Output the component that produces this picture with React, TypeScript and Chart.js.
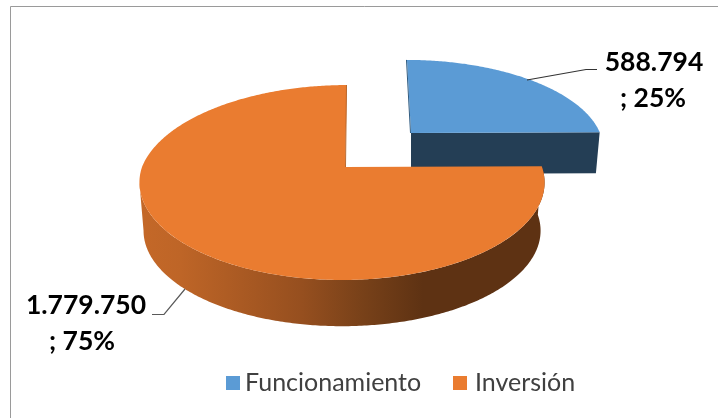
import React, { useEffect, useRef } from "react";
import { Chart, registerables } from "chart.js";

Chart.register(...registerables);

const categories = ["Funcionamiento", "Inversión"];
const amounts = [588794, 1779750];
const topColors = ["#5B9BD5", "#EA7C30"];

// Screen geometry of each exploded wedge: hub position, rim offset, radii, tilt and wall height.
const wedgeShapes = [
  { hubX: 411, hubY: 133, shift: 0, rx: 189, ry: 84.7, skew: 0.055, depth: 41 },
  { hubX: 345, hubY: 167, shift: -3, rx: 200, ry: 95, skew: -0.061, depth: 48.5 },
];
const FORESHORTEN = 0.159;
const WALL_SCALE = 0.98;

const rimPoint = (s: any, a: number, lower: boolean) => {
  const sin = Math.sin(a);
  const w = 1 - FORESHORTEN * sin;
  const dy = (s.ry * sin) / w;
  const dx = s.shift + (s.rx * Math.cos(a)) / w + s.skew * Math.min(dy, 0);
  const k = lower ? WALL_SCALE : 1;
  return { x: s.hubX + k * dx, y: s.hubY + k * dy + (lower ? s.depth : 0) };
};

// Extends the current path through the given rim points.
const tracePoints = (ctx: CanvasRenderingContext2D, pts: { x: number; y: number }[]) => {
  pts.forEach((p) => ctx.lineTo(p.x, p.y));
};

const sweep = (s: any, from: number, to: number, lower: boolean) => {
  const n = Math.max(2, Math.ceil(Math.abs(to - from) * 90));
  const pts = [];
  for (let i = 0; i <= n; i++) pts.push(rimPoint(s, from + ((to - from) * i) / n, lower));
  return pts;
};

const formatAmount = (v: number) => String(v).replace(/\B(?=(\d{3})+$)/g, ".");

const piePerspective = {
  id: "piePerspective",
  beforeDatasetsDraw(chart: any) {
    const { ctx } = chart;
    const arcs = chart.getDatasetMeta(0).data;
    const [blue, orange] = [arcs[0], arcs[1]];

    // Blue wedge: flat cut face below its right-hand radius, then the top surface.
    const sb = wedgeShapes[0];
    const bEnd = blue.endAngle;
    const corner = rimPoint(sb, bEnd, false);
    const cornerLow = rimPoint(sb, bEnd, true);
    ctx.save();
    ctx.fillStyle = "#243E55";
    ctx.beginPath();
    ctx.moveTo(sb.hubX, sb.hubY);
    ctx.lineTo(corner.x, corner.y);
    ctx.lineTo(cornerLow.x, cornerLow.y);
    ctx.lineTo(sb.hubX, sb.hubY + sb.depth);
    ctx.closePath();
    ctx.fill();
    ctx.fillStyle = topColors[0];
    ctx.beginPath();
    ctx.moveTo(sb.hubX, sb.hubY);
    tracePoints(ctx, sweep(sb, blue.startAngle, bEnd, false));
    ctx.closePath();
    ctx.fill();
    const bTop = rimPoint(sb, blue.startAngle, false);
    ctx.strokeStyle = "#2F5B80";
    ctx.lineWidth = 1;
    ctx.beginPath();
    ctx.moveTo(sb.hubX - 0.5, sb.hubY);
    ctx.lineTo(bTop.x - 0.5, bTop.y);
    ctx.stroke();

    // Orange wedge: curved outer wall with a left-to-right shade, then the top surface.
    // The wall stops where the rim is widest, which gives the left silhouette.
    const so = wedgeShapes[1];
    const wallFrom = orange.startAngle;
    const wallTo = Math.PI - Math.asin(FORESHORTEN);
    const shade = ctx.createLinearGradient(140, 0, 544, 0);
    shade.addColorStop(0, "#C46828");
    shade.addColorStop(0.1, "#BE6527");
    shade.addColorStop(0.4, "#964F1F");
    shade.addColorStop(0.55, "#784119");
    shade.addColorStop(0.7, "#5E3213");
    shade.addColorStop(1, "#5E3213");
    ctx.fillStyle = shade;
    ctx.beginPath();
    const topRim = sweep(so, wallFrom, wallTo, false);
    ctx.moveTo(topRim[0].x, topRim[0].y);
    tracePoints(ctx, topRim);
    tracePoints(ctx, sweep(so, wallTo, wallFrom, true));
    ctx.closePath();
    ctx.fill();

    ctx.fillStyle = topColors[1];
    ctx.beginPath();
    ctx.moveTo(so.hubX, so.hubY);
    tracePoints(ctx, sweep(so, orange.startAngle, orange.endAngle, false));
    ctx.closePath();
    ctx.fill();
    const oTop = rimPoint(so, orange.endAngle, false);
    ctx.strokeStyle = "#B9682D";
    ctx.lineWidth = 1;
    ctx.beginPath();
    ctx.moveTo(so.hubX + 0.5, so.hubY);
    ctx.lineTo(oTop.x - 0.5, oTop.y);
    ctx.stroke();
    ctx.restore();
    return false;
  },
  afterDraw(chart: any) {
    const { ctx } = chart;
    const values: number[] = chart.data.datasets[0].data;
    const total = values.reduce((a, b) => a + b, 0);

    ctx.save();
    // Chart frame: only the left and top edges fall inside the canvas.
    ctx.strokeStyle = "#9A9A9A";
    ctx.lineWidth = 1;
    ctx.beginPath();
    ctx.moveTo(10.5, 418);
    ctx.lineTo(10.5, 6.5);
    ctx.lineTo(718, 6.5);
    ctx.stroke();

    // Leader lines.
    ctx.lineWidth = 1.2;
    ctx.strokeStyle = "#333333";
    ctx.beginPath();
    ctx.moveTo(527, 80);
    ctx.lineTo(586, 69.5);
    ctx.lineTo(597, 69.5);
    ctx.stroke();
    ctx.strokeStyle = "#595959";
    ctx.beginPath();
    ctx.moveTo(185, 289);
    ctx.lineTo(164, 314.5);
    ctx.lineTo(152, 314.5);
    ctx.stroke();

    // Value and share labels.
    ctx.fillStyle = "#000000";
    ctx.font = "bold 26.5px Lato";
    ctx.textAlign = "center";
    ctx.textBaseline = "middle";
    const labelAt = [
      { x: 654, y: 62 },
      { x: 86, y: 305 },
    ];
    values.forEach((v, i) => {
      const share = Math.round((v / total) * 100);
      ctx.fillText(formatAmount(v), labelAt[i].x, labelAt[i].y);
      ctx.fillText(`; ${share}%`, labelAt[i].x - (i ? 4 : 1), labelAt[i].y + 36);
    });

    // Legend row.
    ctx.textAlign = "left";
    ctx.font = "25px Lato";
    const legendBoxAt = [226, 453];
    const legendTextAt = [245, 475];
    chart.data.labels.forEach((name: string, i: number) => {
      ctx.fillStyle = topColors[i];
      ctx.fillRect(legendBoxAt[i], 376, 14, 14);
      ctx.fillStyle = "#404040";
      ctx.fillText(name, legendTextAt[i], 383);
    });
    ctx.restore();
  },
};

export default function App() {
  const ref = useRef<HTMLCanvasElement>(null);
  useEffect(() => {
    document.body.style.margin = "0";
    const chart = new Chart(ref.current!, {
      type: "pie",
      data: {
        labels: categories,
        datasets: [{ data: amounts, backgroundColor: topColors, borderWidth: 0 }],
      },
      options: {
        responsive: false,
        animation: false,
        plugins: { legend: { display: false }, tooltip: { enabled: false } },
      },
      plugins: [piePerspective],
    });
    return () => chart.destroy();
  }, []);
  return <canvas ref={ref} width={718} height={418} style={{ display: "block" }} />;
}
